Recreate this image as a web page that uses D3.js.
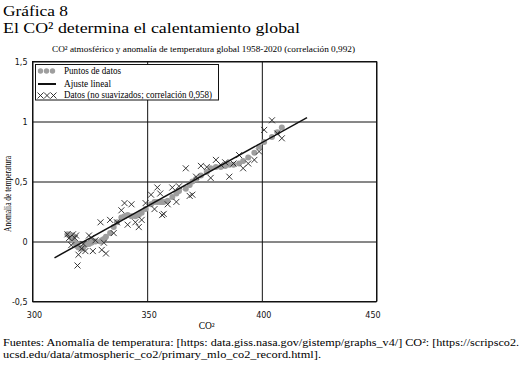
<!DOCTYPE html>
<html><head><meta charset="utf-8">
<script src="https://cdn.jsdelivr.net/npm/d3@7"></script>
<style>body{margin:0;background:#fff}svg{display:block}</style>
</head><body><svg id="c" width="522" height="366"></svg>
<script>
// ---- data (1958-2018) ----
const co2 = [315.23,315.98,316.91,317.64,318.45,318.99,319.62,320.04,321.37,322.18,
  323.05,324.62,325.68,326.32,327.46,329.68,330.19,331.13,332.03,333.84,
  335.41,336.84,338.76,340.12,341.48,343.15,344.87,346.35,347.61,349.31,
  351.69,353.20,354.45,355.70,356.54,357.21,358.96,360.97,362.74,363.88,
  366.84,368.54,369.71,371.32,373.45,375.98,377.70,379.98,382.09,384.02,
  385.83,387.64,390.10,391.85,394.06,396.74,398.81,401.01,404.41,406.76,408.72];
const tempAnnual = [0.06,0.03,-0.03,0.06,0.03,0.05,-0.20,-0.11,-0.06,-0.02,
  -0.08,0.05,0.03,-0.08,0.01,0.16,-0.07,-0.01,-0.10,0.18,
  0.07,0.16,0.26,0.32,0.14,0.31,0.16,0.12,0.18,0.32,
  0.39,0.27,0.45,0.40,0.22,0.23,0.31,0.45,0.33,0.46,
  0.61,0.38,0.39,0.54,0.63,0.62,0.53,0.68,0.64,0.66,
  0.54,0.65,0.72,0.61,0.65,0.68,0.75,0.93,1.01,0.90,0.86];
const tempSmooth = [0.06,0.05,0.03,0.01,-0.01,-0.02,-0.04,-0.05,-0.06,-0.05,
  -0.03,-0.02,-0.01,0.00,0.00,0.00,0.01,0.02,0.04,0.07,
  0.12,0.16,0.20,0.21,0.22,0.21,0.21,0.22,0.24,0.27,
  0.31,0.33,0.33,0.33,0.33,0.33,0.34,0.37,0.40,0.42,
  0.44,0.47,0.50,0.52,0.55,0.58,0.61,0.62,0.62,0.63,
  0.64,0.64,0.65,0.67,0.70,0.74,0.79,0.83,0.87,0.91,0.95];
const fitCO2 = [309.6, 419.7];
const fitTemp = [-0.136, 1.033];
const xTicks = [300, 350, 400, 450];
const yTicks = [-0.5, 0, 0.5, 1, 1.5];
const titleLines = ["Gráfica 8", "El CO² determina el calentamiento global"];
const subtitle = "CO² atmosférico y anomalía de temperatura global 1958-2020 (correlación 0,992)";
const legendLabels = ["Puntos de datos", "Ajuste lineal", "Datos (no suavizados; correlación 0,958)"];
const xLabel = "CO²";
const yLabel = "Anomalia de temperatura";
const footerLines = ["Fuentes: Anomalía de temperatura: [https: data.giss.nasa.gov/gistemp/graphs_v4/] CO²: [https://scripsco2.",
  "ucsd.edu/data/atmospheric_co2/primary_mlo_co2_record.html]."];

// ---- drawing ----
const svg = d3.select("#c");
const serif = "'Liberation Serif','Times New Roman',serif";
const sans = "'DejaVu Sans',Verdana,sans-serif";
const x = d3.scaleLinear().domain([300, 450]).range([32.5, 376.5]);
const y = d3.scaleLinear().domain([-0.5, 1.5]).range([301.5, 61.5]);
const loc = d3.formatLocale({decimal: ",", thousands: ".", grouping: [3], currency: ["", "€"], minus: "-"});
const fmt = loc.format("");

// titles
svg.append("text").attr("x", 3).attr("y", 15.5).attr("font-family", serif).attr("font-size", 15.5)
  .attr("textLength", 65).attr("lengthAdjust", "spacingAndGlyphs").text(titleLines[0]);
svg.append("text").attr("x", 3).attr("y", 33).attr("font-family", serif).attr("font-size", 15.5)
  .attr("textLength", 297).attr("lengthAdjust", "spacingAndGlyphs").text(titleLines[1]);
svg.append("text").attr("x", 52).attr("y", 51.5).attr("font-family", serif).attr("font-size", 9)
  .attr("textLength", 303).attr("lengthAdjust", "spacingAndGlyphs").text(subtitle);

// axes with gridlines
const W = x.range()[1] - x.range()[0], H = y.range()[0] - y.range()[1];
const gy = svg.append("g").attr("transform", `translate(${x.range()[0]},0)`)
  .call(d3.axisLeft(y).tickValues(yTicks).tickSize(-W).tickPadding(5).tickFormat(fmt));
gy.select(".domain").remove();
gy.selectAll("line").attr("stroke", "#111");
gy.selectAll("text").attr("font-family", sans).attr("font-size", 8).attr("fill", "#111");

const gx = svg.append("g").attr("transform", `translate(0,${y.range()[0]})`)
  .call(d3.axisBottom(x).tickValues(xTicks).tickSize(-H).tickFormat(d3.format("d")));
gx.select(".domain").remove();
gx.selectAll("line").attr("stroke", "#111");
gx.selectAll("text").attr("font-family", sans).attr("font-size", 8).attr("fill", "#111")
  .attr("dy", null).attr("y", 16.5).attr("dx", d => d === 450 ? -4 : 1.5);

// border
svg.append("rect").attr("x", x.range()[0]).attr("y", y.range()[1]).attr("width", W).attr("height", H)
  .attr("fill", "none").attr("stroke", "#111");

// smoothed points
svg.append("g").selectAll("circle").data(co2).join("circle")
  .attr("cx", (d) => x(d)).attr("cy", (d, i) => y(tempSmooth[i])).attr("r", 3).attr("fill", "#9e9e9e");

// raw data X marks
const s = 3;
svg.append("g").selectAll("path").data(co2).join("path")
  .attr("d", (d, i) => { const cx = x(d), cy = y(tempAnnual[i]);
    return `M${cx - s},${cy - s}L${cx + s},${cy + s}M${cx - s},${cy + s}L${cx + s},${cy - s}`; })
  .attr("stroke", "#222").attr("stroke-width", 0.9).attr("fill", "none");

// fit line
svg.append("line").attr("x1", x(fitCO2[0])).attr("y1", y(fitTemp[0]))
  .attr("x2", x(fitCO2[1])).attr("y2", y(fitTemp[1])).attr("stroke", "#111").attr("stroke-width", 1.5);

// legend
const lg = svg.append("g");
lg.append("rect").attr("x", 35.5).attr("y", 64.5).attr("width", 183).attr("height", 35.5)
  .attr("fill", "#fff").attr("stroke", "#111");
[40.5, 46.5, 52.5].forEach(cx => lg.append("circle").attr("cx", cx).attr("cy", 71).attr("r", 2.7).attr("fill", "#9e9e9e"));
lg.append("line").attr("x1", 38).attr("x2", 56).attr("y1", 84).attr("y2", 84).attr("stroke", "#111").attr("stroke-width", 2);
[40.5, 47, 53.5].forEach(cx => lg.append("path")
  .attr("d", `M${cx - 3},${95.5 - 3}L${cx + 3},${95.5 + 3}M${cx - 3},${95.5 + 3}L${cx + 3},${95.5 - 3}`)
  .attr("stroke", "#222").attr("stroke-width", 0.9));
const lgY = [73.5, 86.5, 98], lgW = [57, 47, 148];
legendLabels.forEach((t, i) => lg.append("text").attr("x", 64).attr("y", lgY[i])
  .attr("font-family", serif).attr("font-size", 9.5).attr("textLength", lgW[i])
  .attr("lengthAdjust", "spacingAndGlyphs").text(t));

// axis titles
svg.append("text").attr("x", 206.7).attr("y", 329).attr("text-anchor", "middle")
  .attr("font-family", serif).attr("font-size", 9.5).text(xLabel);
svg.append("text").attr("transform", "translate(10.5,194) rotate(-90)").attr("text-anchor", "middle")
  .attr("font-family", serif).attr("font-size", 9.5).attr("textLength", 76)
  .attr("lengthAdjust", "spacingAndGlyphs").text(yLabel);

// footer
const fW = [516, 318];
footerLines.forEach((t, i) => svg.append("text").attr("x", 3).attr("y", 345.5 + i * 12)
  .attr("font-family", serif).attr("font-size", 11).attr("textLength", fW[i])
  .attr("lengthAdjust", "spacingAndGlyphs").text(t));
</script></body></html>
